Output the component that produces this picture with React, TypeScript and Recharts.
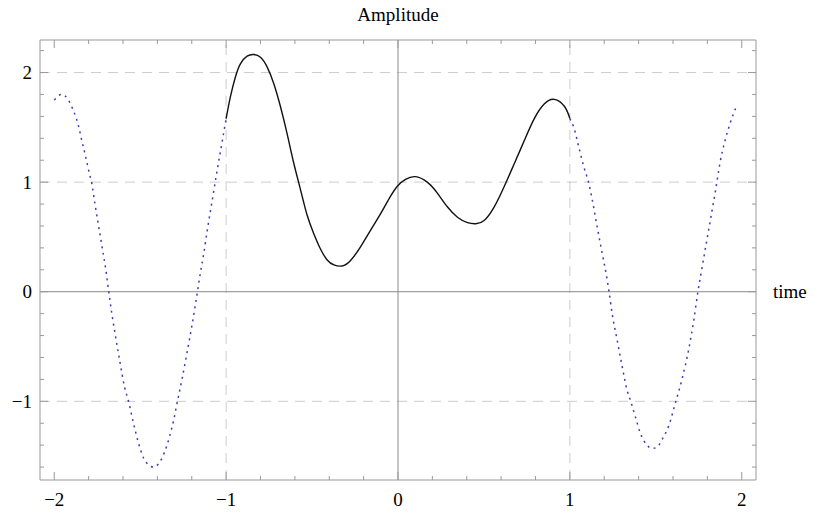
import { ComposedChart, Line, XAxis, YAxis, ReferenceLine } from 'recharts'

// readings: outer part (dotted) left of -1, inner part (solid) -1..1, outer part right of 1
const leftTime = [
  -2.0, -1.957, -1.918, -1.893, -1.86, -1.84, -1.817, -1.796, -1.782, -1.763, -1.741, -1.722, -1.7, -1.683,
  -1.665, -1.64, -1.617, -1.591, -1.568, -1.539, -1.51, -1.48, -1.451, -1.422, -1.393, -1.36, -1.329, -1.305,
  -1.286, -1.257, -1.228, -1.198, -1.169, -1.15, -1.13, -1.111, -1.091, -1.072, -1.053, -1.023, -1.0,
]
const leftAmp = [
  1.75, 1.8, 1.75, 1.67, 1.52, 1.38, 1.23, 1.08, 0.99, 0.8, 0.59, 0.41, 0.2, 0.0,
  -0.2, -0.44, -0.65, -0.87, -1.0, -1.2, -1.38, -1.52, -1.58, -1.6, -1.57, -1.47, -1.32, -1.17,
  -1.02, -0.8, -0.56, -0.3, -0.02, 0.17, 0.35, 0.55, 0.74, 0.92, 1.1, 1.37, 1.58,
]

const midTime = [
  -1.0, -0.975, -0.946, -0.917, -0.878, -0.839, -0.8, -0.761, -0.723, -0.684, -0.645, -0.606, -0.567, -0.529,
  -0.49, -0.451, -0.412, -0.373, -0.325, -0.276, -0.218, -0.16, -0.102, -0.044, 0.0, 0.044, 0.1, 0.17,
  0.229, 0.287, 0.346, 0.404, 0.453, 0.501, 0.56, 0.618, 0.677, 0.735, 0.793, 0.852, 0.91, 0.969, 1.0,
]
const midAmp = [
  1.58, 1.78, 1.96, 2.08, 2.15, 2.165, 2.14, 2.05, 1.9, 1.69, 1.44, 1.17, 0.93, 0.7,
  0.53, 0.39, 0.29, 0.245, 0.235, 0.285, 0.41, 0.56, 0.71, 0.87, 0.97, 1.025, 1.05, 1.0,
  0.9, 0.775, 0.68, 0.63, 0.62, 0.65, 0.775, 0.96, 1.17, 1.38, 1.58, 1.715, 1.755, 1.69, 1.58,
]

const rightTime = [
  1.0, 1.023, 1.052, 1.081, 1.11, 1.13, 1.159, 1.188, 1.217, 1.228, 1.246, 1.275, 1.304, 1.333, 1.352,
  1.381, 1.41, 1.449, 1.478, 1.507, 1.536, 1.574, 1.613, 1.652, 1.691, 1.72, 1.745, 1.768, 1.797,
  1.826, 1.845, 1.874, 1.903, 1.932, 1.971,
]
const rightAmp = [
  1.58, 1.5, 1.32, 1.14, 0.99, 0.84, 0.59, 0.35, 0.11, 0.0, -0.2, -0.44, -0.68, -0.9, -0.99,
  -1.14, -1.29, -1.4, -1.43, -1.42, -1.35, -1.23, -1.02, -0.8, -0.53, -0.27, 0.0, 0.21, 0.47,
  0.73, 0.9, 1.18, 1.38, 1.535, 1.7,
]

const xTicks = [-2, -1.8, -1.6, -1.4, -1.2, -1, -0.8, -0.6, -0.4, -0.2, 0, 0.2, 0.4, 0.6, 0.8, 1, 1.2, 1.4, 1.6, 1.8, 2]
const yTicks = [-1.6, -1.4, -1.2, -1, -0.8, -0.6, -0.4, -0.2, 0, 0.2, 0.4, 0.6, 0.8, 1, 1.2, 1.4, 1.6, 1.8, 2, 2.2]
const xMajor = [-2, -1, 0, 1, 2]
const xLabels = ['−2', '−1', '0', '1', '2']
const yMajor = [-1, 0, 1, 2]
const yLabels = ['−1', '0', '1', '2']
const xGrid = [-1, 1]
const yGrid = [-1, 1, 2]

const X_DOMAIN: [number, number] = [-2.083, 2.083]
const Y_DOMAIN: [number, number] = [-1.718, 2.297]

const FONT = '"Liberation Serif", "Times New Roman", serif'
const FRAME = '#999999'

type Row = { t: number; outer: number | null; inner: number | null }
const rows: Row[] = [
  ...leftTime.map((t, i) => ({ t, outer: leftAmp[i], inner: null })),
  ...midTime.map((t, i) => ({ t, outer: null, inner: midAmp[i] })),
  ...rightTime.map((t, i) => ({ t, outer: rightAmp[i], inner: null })),
]

function findLabel(v: number, major: number[], labels: string[]): string | null {
  const i = major.findIndex((m) => Math.abs(m - v) < 1e-6)
  return i >= 0 ? labels[i] : null
}

// ticks point inward like a framed plot; integer ticks are longer
function makeTick(side: 'bottom' | 'top' | 'left' | 'right') {
  return (props: any) => {
    const { x, y, payload } = props
    const v = payload.value as number
    const isX = side === 'bottom' || side === 'top'
    const label = isX ? findLabel(v, xMajor, xLabels) : findLabel(v, yMajor, yLabels)
    const len = label !== null ? 8 : 4
    let line
    if (side === 'bottom') line = <line x1={x} x2={x} y1={y} y2={y - len} stroke={FRAME} />
    else if (side === 'top') line = <line x1={x} x2={x} y1={y} y2={y + len} stroke={FRAME} />
    else if (side === 'left') line = <line x1={x} x2={x + len} y1={y} y2={y} stroke={FRAME} />
    else line = <line x1={x} x2={x - len} y1={y} y2={y} stroke={FRAME} />
    return (
      <g>
        {line}
        {label !== null && side === 'bottom' && (
          <text x={x} y={y + 26} textAnchor="middle" fontFamily={FONT} fontSize={19} fill="#000">
            {label}
          </text>
        )}
        {label !== null && side === 'left' && (
          <text x={x - 8} y={y} dy="0.35em" textAnchor="end" fontFamily={FONT} fontSize={19} fill="#000">
            {label}
          </text>
        )}
      </g>
    )
  }
}

export default function App() {
  return (
    <div style={{ position: 'absolute', left: 0, top: 0, background: '#fff' }}>
      <ComposedChart width={818} height={514} data={rows} margin={{ top: 10, right: 32, bottom: 4, left: 5 }}>
        <XAxis
          dataKey="t"
          type="number"
          domain={X_DOMAIN}
          allowDataOverflow
          ticks={xTicks}
          interval={0}
          height={30}
          tickSize={0}
          tickMargin={0}
          tickLine={false}
          axisLine={{ stroke: FRAME }}
          tick={makeTick('bottom')}
        />
        <XAxis
          xAxisId="top"
          orientation="top"
          dataKey="t"
          type="number"
          domain={X_DOMAIN}
          allowDataOverflow
          ticks={xTicks}
          interval={0}
          height={30}
          tickSize={0}
          tickMargin={0}
          tickLine={false}
          axisLine={{ stroke: FRAME }}
          tick={makeTick('top')}
        />
        <YAxis
          type="number"
          domain={Y_DOMAIN}
          allowDataOverflow
          ticks={yTicks}
          interval={0}
          width={35}
          tickSize={0}
          tickMargin={0}
          tickLine={false}
          axisLine={{ stroke: FRAME }}
          tick={makeTick('left')}
        />
        <YAxis
          yAxisId="right"
          orientation="right"
          type="number"
          domain={Y_DOMAIN}
          allowDataOverflow
          ticks={yTicks}
          interval={0}
          width={30}
          tickSize={0}
          tickMargin={0}
          tickLine={false}
          axisLine={{ stroke: FRAME }}
          tick={makeTick('right')}
        />
        {xGrid.map((g) => (
          <ReferenceLine key={'gx' + g} x={g} stroke="#cccccc" strokeDasharray="10 7" />
        ))}
        {yGrid.map((g) => (
          <ReferenceLine key={'gy' + g} y={g} stroke="#cccccc" strokeDasharray="10 7" />
        ))}
        <ReferenceLine
          x={0}
          stroke="#8a8a8a"
          label={{ value: 'Amplitude', position: 'top', offset: 19, fill: '#000', fontSize: 19, fontFamily: FONT }}
        />
        <ReferenceLine
          y={0}
          stroke="#8a8a8a"
          label={{ value: 'time', position: 'right', offset: 17, fill: '#000', fontSize: 19, fontFamily: FONT }}
        />
        <Line
          type="monotone"
          dataKey="outer"
          stroke="#3b3bb4"
          strokeWidth={1.5}
          strokeDasharray="2 4.5"
          dot={false}
          activeDot={false}
          isAnimationActive={false}
        />
        <Line
          type="natural"
          dataKey="inner"
          stroke="#111111"
          strokeWidth={1.4}
          dot={false}
          activeDot={false}
          isAnimationActive={false}
        />
      </ComposedChart>
    </div>
  )
}
